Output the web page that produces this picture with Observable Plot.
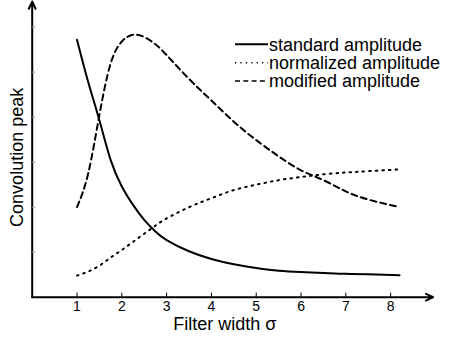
<!DOCTYPE html>
<html>
<head>
<meta charset="utf-8">
<script src="https://cdn.jsdelivr.net/npm/d3@7"></script>
<script src="https://cdn.jsdelivr.net/npm/@observablehq/plot@0.6"></script>
<style>
  html, body { margin: 0; padding: 0; background: #fff; }
  #chart svg { display: block; font-family: "Liberation Sans", Arial, Helvetica, sans-serif; }
</style>
</head>
<body>
<div id="chart"></div>
<script>
// ---- data ----
const sigma         = [1, 1.25, 1.5, 1.75, 2, 2.25, 2.5, 2.75, 3, 3.5, 4, 4.5, 5, 5.5, 6, 6.5, 7, 7.5, 8.2];
const standardAmp   = [5.72, 4.78, 3.93, 3.05, 2.46, 2.05, 1.72, 1.46, 1.27, 1.02, 0.85, 0.73, 0.65, 0.59, 0.56, 0.54, 0.52, 0.51, 0.49];
const normalizedAmp = [0.48, 0.57, 0.70, 0.88, 1.05, 1.23, 1.41, 1.59, 1.75, 2.00, 2.20, 2.38, 2.50, 2.60, 2.67, 2.73, 2.77, 2.80, 2.84];
const modifiedAmp   = [2.00, 2.75, 4.05, 5.19, 5.68, 5.83, 5.78, 5.62, 5.38, 4.85, 4.37, 3.90, 3.49, 3.13, 2.82, 2.60, 2.35, 2.17, 2.00];
const seriesNames   = ["standard amplitude", "normalized amplitude", "modified amplitude"];
const xTicks = [1, 2, 3, 4, 5, 6, 7, 8];
const yTicks = [1, 2, 3, 4, 5, 6];
const xLabel = "Filter width σ";
const yLabel = "Convolution peak";
const xMax = 8.95, yMax = 6.57;

// ---- styles ----
const dashes = {"standard amplitude": null, "normalized amplitude": "1.6,5", "modified amplitude": "6,4"};
const legendDashes = {"standard amplitude": null, "normalized amplitude": "1.2,4.2", "modified amplitude": "5,3.3"};
const values = [standardAmp, normalizedAmp, modifiedAmp];

const lineMarks = seriesNames.map((name, k) =>
  Plot.line(sigma, {
    x: d => d,
    y: (d, i) => values[k][i],
    curve: "natural",
    stroke: "#000",
    strokeWidth: 2,
    strokeDasharray: dashes[name]
  })
);

const fontFamily = '"Liberation Sans", Arial, Helvetica, sans-serif';

const chart = Plot.plot({
  width: 449,
  height: 341,
  marginLeft: 31.7,
  marginRight: 16.3,
  marginTop: 1,
  marginBottom: 44.3,
  x: {domain: [0, xMax], axis: null},
  y: {domain: [0, yMax], axis: null},
  style: {fontFamily, background: "#fff", color: "#000"},
  marks: [
    ...lineMarks,
    // axis lines with arrowheads
    Plot.arrow([0], {x1: 0, y1: 0, x2: xMax, y2: 0, stroke: "#000", strokeWidth: 2, headLength: 6, headAngle: 50}),
    Plot.arrow([0], {x1: 0, y1: 0, x2: 0, y2: yMax, stroke: "#000", strokeWidth: 2, headLength: 6, headAngle: 50}),
    // ticks
    Plot.ruleX(xTicks, {x: d => d, y1: 0, y2: 0.09, stroke: "#000", strokeWidth: 1}),
    Plot.ruleY(yTicks, {y: d => d, x1: 0, x2: 0.08, stroke: "#999", strokeWidth: 1}),
    // tick labels
    Plot.text(xTicks, {x: d => d, frameAnchor: "bottom", dy: 9, text: d => String(d), fontSize: 14, lineAnchor: "middle", fill: "#000"}),
    // axis titles
    Plot.text([xLabel], {frameAnchor: "bottom", dx: -8, dy: 27.5, text: d => d, fontSize: 18, lineAnchor: "middle", fill: "#000"}),
    Plot.text([yLabel], {frameAnchor: "left", textAnchor: "middle", dx: -15, dy: 8, rotate: -90, text: d => d, fontSize: 18, lineAnchor: "middle", fill: "#000"})
  ]
});

// legend drawn inside the same svg
const svg = d3.select(chart);
const legend = svg.append("g").attr("transform", "translate(235,44.3)");
seriesNames.forEach((name, k) => {
  const g = legend.append("g").attr("transform", `translate(0,${k * 18.4})`);
  g.append("line")
    .attr("x1", 0).attr("x2", 33).attr("y1", 0).attr("y2", 0)
    .attr("stroke", "#000")
    .attr("stroke-width", k === 0 ? 2 : 1.5)
    .attr("stroke-dasharray", legendDashes[name]);
  g.append("text")
    .attr("x", 34).attr("y", 0).attr("dy", "0.35em")
    .attr("text-anchor", "start")
    .attr("font-size", 18)
    .attr("font-family", fontFamily)
    .attr("fill", "#000")
    .text(name);
});

document.getElementById("chart").appendChild(chart);
</script>
</body>
</html>
